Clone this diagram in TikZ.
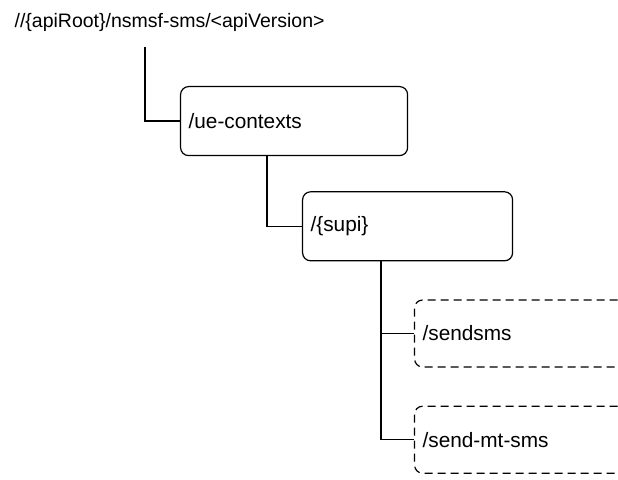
\documentclass[tikz,border=0pt]{standalone}
\usepackage{fontspec}
\setmainfont{Liberation Sans}
\usetikzlibrary{positioning}
\tikzset{resource/.style={draw, rounded corners=4pt, align=left, inner xsep=4pt, minimum height=34.5pt, text width=#1, font=\fontsize{10.4}{12}\selectfont}}
\tikzset{custom/.style={resource=#1, minimum height=33.5pt, dash pattern=on 4pt off 2.5pt}}
\tikzset{apiroot/.style={inner sep=0pt, align=left}}
\tikzset{link/.style={line width=0.6pt}}

\begin{document}
\begin{tikzpicture}[font=\fontsize{9.75}{12}\selectfont, line width=0.6pt]

\useasboundingbox (-7pt,11pt) rectangle (302pt,-229pt);
\clip (-7pt,11pt) rectangle (302pt,-229pt);

\node[apiroot, anchor=west] (root) at (0,0) {//\{apiRoot\}/nsmsf-sms/<apiVersion>};
\coordinate[below right=12.5pt and 65.5pt of root.west] (rootstub);

\node[below right=32pt and 83pt of root.west, resource=105.5pt] (uectx) {/ue-contexts};
\node[below right=17.5pt and 61pt of uectx.south west, resource=97pt] (supi) {/\{supi\}};
\node[below right=19pt and 56pt of supi.south west, custom=130pt] (sendsms) {/sendsms};
\node[below=19pt of sendsms.south west, anchor=north west, custom=130pt] (sendmt) {/send-mt-sms};

\draw[link] (rootstub) |- (uectx.west);
\draw[link] ([xshift=43.5pt]uectx.south west) |- (supi.west);
\draw[link] ([xshift=39.5pt]supi.south west) |- (sendsms.west);
\draw[link] ([xshift=39.5pt]supi.south west) |- (sendmt.west);

\end{tikzpicture}
\end{document}
